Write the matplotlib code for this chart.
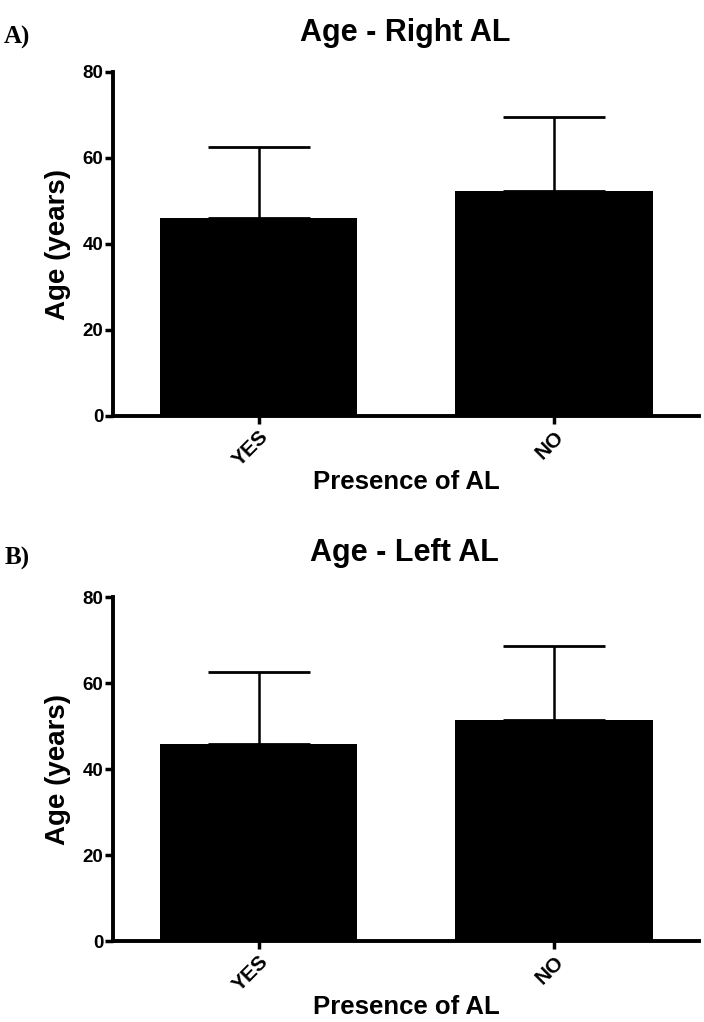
import matplotlib
matplotlib.use("Agg")
import matplotlib.pyplot as plt

categories = ["YES", "NO"]
right_mean = [46.0, 52.3]
right_sd = [16.5, 17.2]
left_mean = [45.8, 51.4]
left_sd = [16.8, 17.3]
titles = ["Age - Right AL", "Age - Left AL"]
panel_tags = ["A)", "B)"]

fig = plt.figure(figsize=(7.04, 10.22), dpi=100)

# axes boxes in figure fraction (left, bottom, width, height)
boxes = [(113/704, 1-416/1022, (699-113)/704, (416-72)/1022),
         (113/704, 1-941/1022, (699-113)/704, (941-597)/1022)]
tag_y = [1-37/1022, 1-558/1022]
title_y = [1-33/1022, 1-553/1022]

for k, (mean, sd) in enumerate([(right_mean, right_sd), (left_mean, left_sd)]):
    ax = fig.add_axes(boxes[k])
    x = range(len(categories))
    ax.bar(x, mean, width=0.668, color="black", zorder=2)
    ax.errorbar(x, mean, yerr=[[0, 0], sd], fmt="none", ecolor="black",
                elinewidth=1.8, capsize=37, capthick=2.0, zorder=1)
    ax.set_xlim(-0.493, 1.49)
    ax.set_ylim(0, 80)
    ax.set_yticks([0, 20, 40, 60, 80])
    ax.set_xticks(list(x))
    ax.set_xticklabels(categories, rotation=45, ha="right", rotation_mode="anchor",
                       fontsize=15, fontweight="bold", family="Liberation Sans")
    for lab in ax.get_yticklabels():
        lab.set_fontsize(13.5)
        lab.set_fontweight("bold")
        lab.set_family("Liberation Sans")
    for s in ["top", "right"]:
        ax.spines[s].set_visible(False)
    for s in ["left", "bottom"]:
        ax.spines[s].set_linewidth(2.8)
    ax.tick_params(axis="both", width=2.5, length=6, pad=1)
    ax.tick_params(axis="x", pad=2)
    ax.set_ylabel("Age (years)", fontsize=20, fontweight="bold",
                  family="Liberation Sans", labelpad=8)
    ax.set_xlabel("Presence of AL", fontsize=18.5, fontweight="bold",
                  family="Liberation Sans", labelpad=0)
    fig.text(0.575, title_y[k], titles[k], ha="center", va="center",
             fontsize=22, fontweight="bold", family="Liberation Sans")
    fig.text(0.006, tag_y[k], panel_tags[k], ha="left", va="center",
             fontsize=18, fontweight="bold", family="Liberation Serif")

fig.savefig("out.png", dpi=100)
